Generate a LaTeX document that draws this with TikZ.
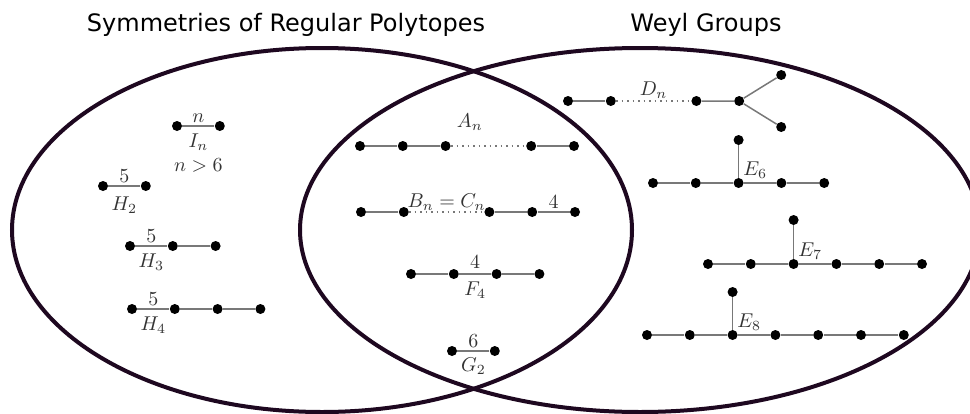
\documentclass[tikz,border=0pt]{standalone}
\usepackage{amsmath}
\usepackage{fontspec}
\setsansfont{DejaVu Sans}
\usepackage{xcolor}
\usepackage{tikz}
\usetikzlibrary{positioning}
\definecolor{vennline}{RGB}{30, 8, 32}
\definecolor{bondgray}{RGB}{120, 120, 120}

\begin{document}
\begin{tikzpicture}[
  x=0.5pt, y=-0.5pt,
  node distance=21.4pt, on grid,
  dot/.style={circle, fill=black, inner sep=0pt, minimum size=5pt},
  bond/.style={draw=bondgray, line width=0.75pt},
  gap/.style={bond, dotted},
  lab/.style={text=black!80, inner sep=1.5pt},
  labdown/.style={lab, below, inner sep=3.5pt},
  title/.style={font=\sffamily\fontsize{12}{14}\selectfont, anchor=base},
  venn/.style={draw=vennline, line width=2pt}
]
\useasboundingbox (0,0) rectangle (970,413);

% Venn outlines
\draw[venn] (322,230) ellipse [x radius=155pt, y radius=91pt];
\draw[venn] (640,230) ellipse [x radius=170pt, y radius=91pt];

% Titles
\node[title] (poly) at (286,31) {Symmetries of Regular Polytopes};
\node[title] (weyl) at (706,31) {Weyl Groups};

% Polytopes only: I_n, H_2, H_3, H_4
\node[dot] (i1) at (177,126) {}; \node[dot, right=of i1] (i2) {};
\draw[bond] (i1) -- node[lab, above] {$n$} node[labdown] (in) {$I_n$} (i2);
\node[lab, below=11.8pt of in] (ncond) {$n > 6$};

\node[dot] (ha1) at (103,186) {}; \node[dot, right=of ha1] (ha2) {};
\draw[bond] (ha1) -- node[lab, above] {$5$} node[labdown, inner sep=5pt] {$H_2$} (ha2);

\node[dot] (hb1) at (130,246) {}; \node[dot, right=of hb1] (hb2) {}; \node[dot, right=of hb2] (hb3) {};
\draw[bond] (hb1) -- node[lab, above] {$5$} node[labdown] {$H_3$} (hb2);
\draw[bond] (hb2) -- (hb3);

\node[dot] (hc1) at (132,309) {}; \node[dot, right=of hc1] (hc2) {};
\node[dot, right=of hc2] (hc3) {}; \node[dot, right=of hc3] (hc4) {};
\draw[bond] (hc1) -- node[lab, above] {$5$} node[labdown] {$H_4$} (hc2);
\draw[bond] (hc2) -- (hc3) -- (hc4);

% Both: A_n, B_n = C_n, F_4, G_2
\node[dot] (a1) at (360,146) {}; \node[dot, right=of a1] (a2) {}; \node[dot, right=of a2] (a3) {};
\node[dot, right=42.8pt of a3] (a4) {}; \node[dot, right=of a4] (a5) {};
\draw[bond] (a1) -- (a2) -- (a3);
\draw[gap] (a3) -- node[lab, above=6pt, pos=0.25] {$A_n$} (a4);
\draw[bond] (a4) -- (a5);

\node[dot] (b1) at (361,212) {}; \node[dot, right=of b1] (b2) {};
\node[dot, right=42.8pt of b2] (b3) {}; \node[dot, right=of b3] (b4) {}; \node[dot, right=of b4] (b5) {};
\draw[bond] (b1) -- (b2);
\draw[gap] (b2) -- node[lab, above, inner sep=0.3pt] {$B_n = C_n$} (b3);
\draw[bond] (b3) -- (b4) -- node[lab, above] {$4$} (b5);

\node[dot] (f1) at (411,274) {}; \node[dot, right=of f1] (f2) {};
\node[dot, right=of f2] (f3) {}; \node[dot, right=of f3] (f4) {};
\draw[bond] (f1) -- (f2) -- node[lab, above, inner sep=2.5pt] {$4$} node[labdown] {$F_4$} (f3) -- (f4);

\node[dot] (g1) at (452,351) {}; \node[dot, right=of g1] (g2) {};
\draw[bond] (g1) -- node[lab, above] {$6$} node[labdown, inner sep=3pt] {$G_2$} (g2);

% Weyl only: D_n, E_6, E_7, E_8
\node[dot] (d1) at (568,101) {}; \node[dot, right=of d1] (d2) {};
\node[dot, right=42.8pt of d2] (d3) {}; \node[dot, right=of d3] (d4) {};
\node[dot, above right=13pt and 21pt of d4] (d5) {};
\node[dot, below right=13pt and 21pt of d4] (d6) {};
\draw[bond] (d1) -- (d2);
\draw[gap] (d2) -- node[lab, above, inner sep=1pt] {$D_n$} (d3);
\draw[bond] (d3) -- (d4) -- (d5);
\draw[bond] (d4) -- (d6);

\node[dot] (ea1) at (653,183) {}; \node[dot, right=of ea1] (ea2) {}; \node[dot, right=of ea2] (ea3) {};
\node[dot, right=of ea3] (ea4) {}; \node[dot, right=of ea4] (ea5) {};
\node[dot, above=21.5pt of ea3] (eat) {};
\draw[bond] (ea1) -- (ea2) -- (ea3) -- (ea4) -- (ea5);
\draw[bond] (ea3) -- node[lab, right, pos=0.22, inner sep=2pt] {$E_6$} (eat);

\node[dot] (eb1) at (708,264) {}; \node[dot, right=of eb1] (eb2) {}; \node[dot, right=of eb2] (eb3) {};
\node[dot, right=of eb3] (eb4) {}; \node[dot, right=of eb4] (eb5) {}; \node[dot, right=of eb5] (eb6) {};
\node[dot, above=22pt of eb3] (ebt) {};
\draw[bond] (eb1) -- (eb2) -- (eb3) -- (eb4) -- (eb5) -- (eb6);
\draw[bond] (eb3) -- node[lab, right, pos=0.22, inner sep=2pt] {$E_7$} (ebt);

\node[dot] (ec1) at (647,335) {}; \node[dot, right=of ec1] (ec2) {}; \node[dot, right=of ec2] (ec3) {};
\node[dot, right=of ec3] (ec4) {}; \node[dot, right=of ec4] (ec5) {};
\node[dot, right=of ec5] (ec6) {}; \node[dot, right=of ec6] (ec7) {};
\node[dot, above=21.5pt of ec3] (ect) {};
\draw[bond] (ec1) -- (ec2) -- (ec3) -- (ec4) -- (ec5) -- (ec6) -- (ec7);
\draw[bond] (ec3) -- node[lab, right, pos=0.22, inner sep=2pt] {$E_8$} (ect);

\end{tikzpicture}
\end{document}
